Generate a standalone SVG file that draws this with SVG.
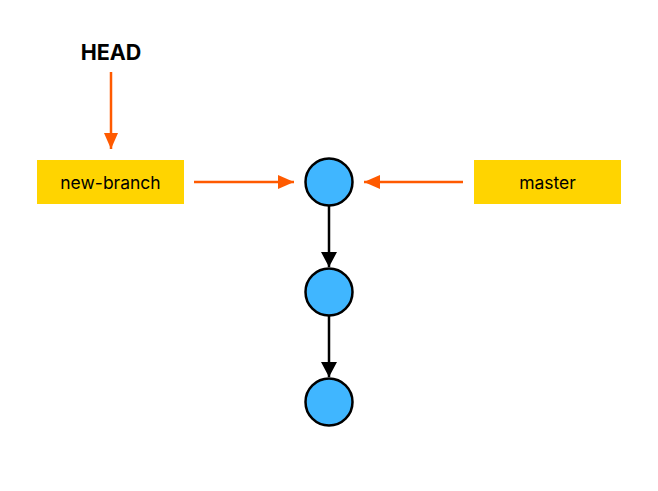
<svg xmlns="http://www.w3.org/2000/svg" width="658" height="491" viewBox="0 0 658 491">
<style>
.lbl{fill:#ffd400}
.t{font-family:Inter,"Liberation Sans",sans-serif;font-size:17.5px;fill:#000;text-anchor:middle;dominant-baseline:central}
.commit{fill:#40b6ff;stroke:#000;stroke-width:2.5}
.ref{stroke:#ff5a00;stroke-width:2.5;fill:none}
.par{stroke:#000;stroke-width:2.5;fill:none}
</style>
<defs>
<marker id="ao" viewBox="0 0 16 14" refX="16" refY="7" markerWidth="16" markerHeight="14" markerUnits="userSpaceOnUse" orient="auto"><path d="M0,0L16,7L0,14Z" fill="#ff5a00"/></marker>
<marker id="ab" viewBox="0 0 15 16" refX="15" refY="8" markerWidth="15" markerHeight="16" markerUnits="userSpaceOnUse" orient="auto"><path d="M0,0L15,8L0,16Z" fill="#000"/></marker>
</defs>
<rect width="658" height="491" fill="#fff"/>
<g id="connectors">
<line class="ref" x1="111" y1="72" x2="111" y2="149" marker-end="url(#ao)"/>
<line class="ref" x1="194" y1="182" x2="294" y2="182" marker-end="url(#ao)"/>
<line class="ref" x1="463" y1="182" x2="364" y2="182" marker-end="url(#ao)"/>
<line class="par" x1="329" y1="206" x2="329" y2="267" marker-end="url(#ab)"/>
<line class="par" x1="329" y1="316" x2="329" y2="377" marker-end="url(#ab)"/>
</g>
<g id="head"><text x="111" y="52" class="t" style="font-weight:bold;font-size:21.5px">HEAD</text></g>
<g id="new-branch"><rect class="lbl" x="37" y="160" width="147" height="44"/><text x="110.5" y="182" class="t">new-branch</text></g>
<g id="master"><rect class="lbl" x="474" y="160" width="147" height="44"/><text x="547.5" y="182" class="t">master</text></g>
<g id="c1"><circle class="commit" cx="329" cy="182" r="23.5"/></g>
<g id="c2"><circle class="commit" cx="329" cy="292" r="23.5"/></g>
<g id="c3"><circle class="commit" cx="329" cy="402" r="23.5"/></g>
</svg>
